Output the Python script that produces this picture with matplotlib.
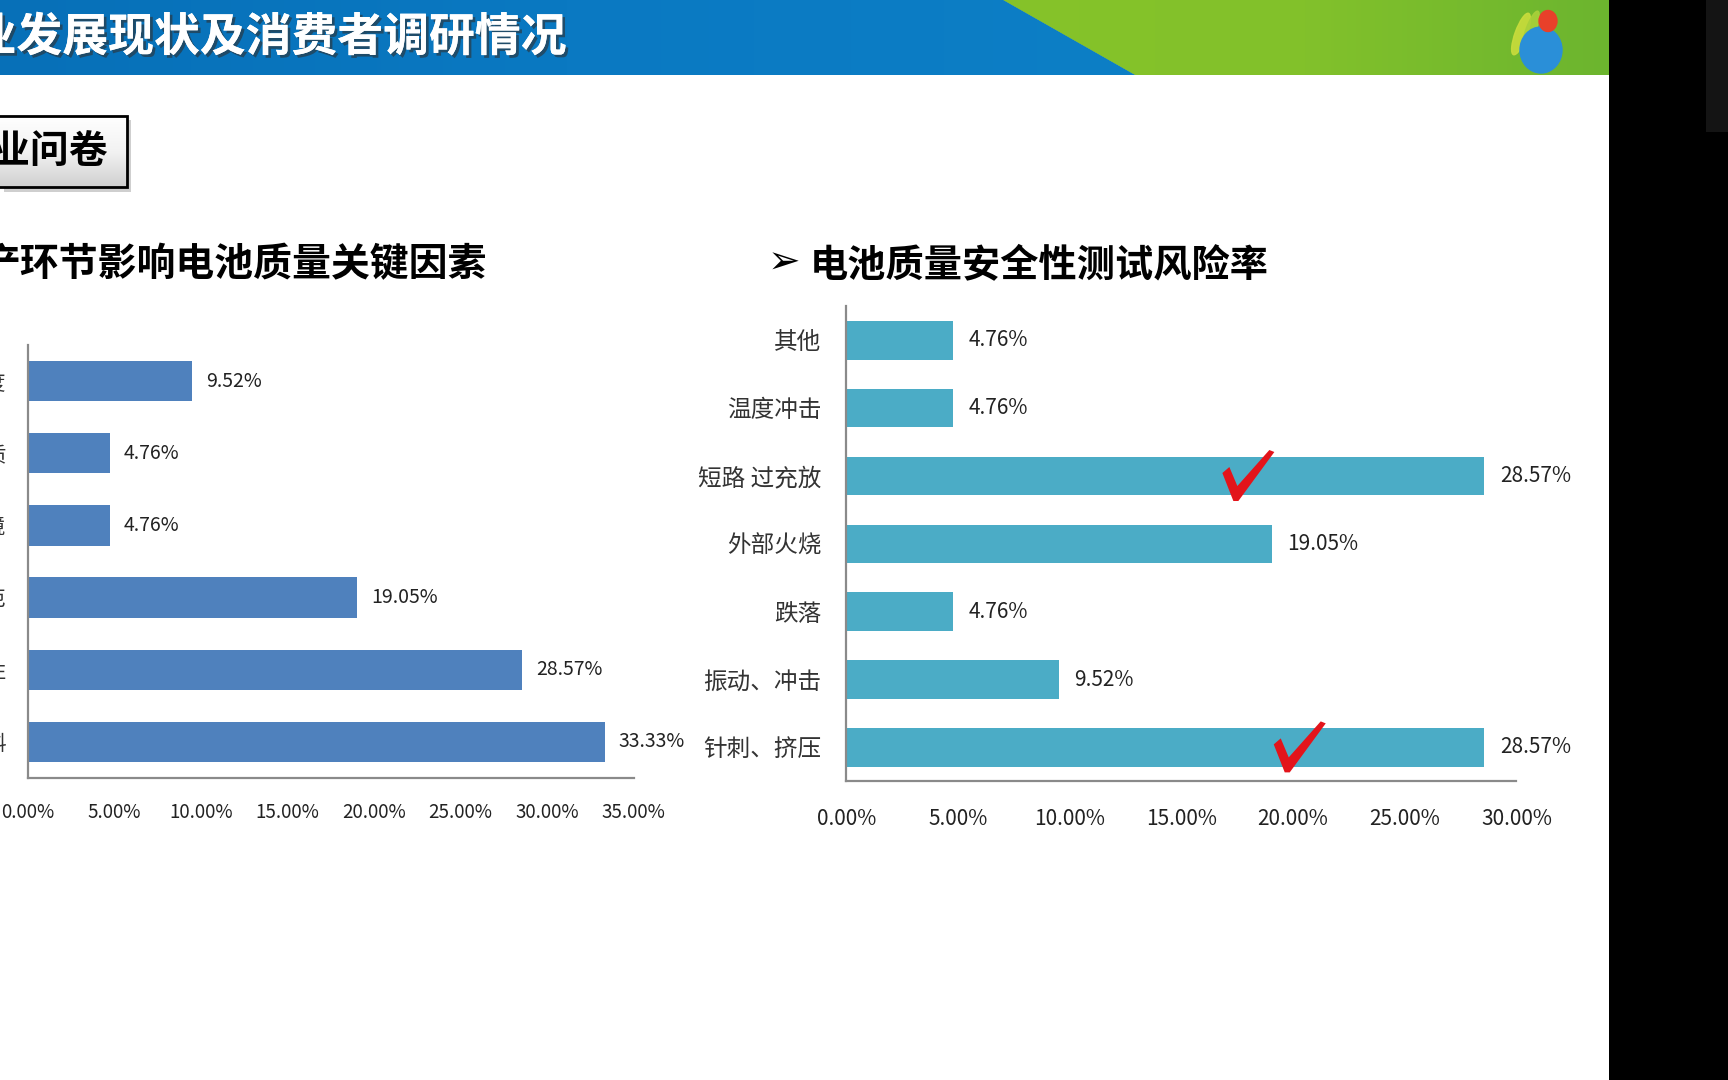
import numpy as np
import matplotlib
matplotlib.use('Agg')
import matplotlib.pyplot as plt
from matplotlib.patches import Polygon, Rectangle, Ellipse
from matplotlib.colors import LinearSegmentedColormap
import matplotlib.patheffects as pe

plt.rcParams['font.family'] = ['Noto Sans CJK SC', 'DejaVu Sans']

# left chart: key factors (labels are cut off by the slide edge)
left_cats = ['生产速度', '人员素质', '生产环境', '工艺规范', '设备稳定性', '原材料']
left_vals = [9.52, 4.76, 4.76, 19.05, 28.57, 33.33]
left_ticks = [0, 5, 10, 15, 20, 25, 30, 35]

# right chart: safety test risk rate
right_cats = ['其他', '温度冲击', '短路 过充放', '外部火烧', '跌落', '振动、冲击', '针刺、挤压']
right_vals = [4.76, 4.76, 28.57, 19.05, 4.76, 9.52, 28.57]
right_ticks = [0, 5, 10, 15, 20, 25, 30]
checked = ['短路 过充放', '针刺、挤压']
check_x = [18.0, 20.3]

W, H = 1728, 1080
fig = plt.figure(figsize=(W / 100, H / 100), dpi=100)
fig.patch.set_facecolor('white')

bg = fig.add_axes([0, 0, 1, 1])
bg.set_xlim(0, W)
bg.set_ylim(H, 0)
bg.axis('off')

# header band
grad = np.linspace(0, 1, 256).reshape(1, -1)
blue = Polygon([(0, 0), (1003, 0), (1135, 75), (0, 75)], closed=True, color='#0a77c0', lw=0)
green = Polygon([(1003, 0), (1609, 0), (1609, 75), (1135, 75)], closed=True, color='#84c22a', lw=0)
bg.add_patch(blue)
bg.add_patch(green)
gcm = LinearSegmentedColormap.from_list('g', ['#86c329', '#82c12b', '#6cb52f'])
im = bg.imshow(grad, cmap=gcm, extent=(1003, 1609, 75, 0), aspect='auto', zorder=1)
im.set_clip_path(green)
bcm = LinearSegmentedColormap.from_list('b', ['#0770b8', '#0a79c2', '#0d7fc6'])
im2 = bg.imshow(grad, cmap=bcm, extent=(0, 1135, 75, 0), aspect='auto', zorder=1)
im2.set_clip_path(blue)

# logo
bg.add_patch(Ellipse((1521, 34), 12, 44, angle=20, color='#c9dc3c', alpha=0.9, zorder=3))
bg.add_patch(Ellipse((1531, 30), 10, 40, angle=20, color='#a9d03a', alpha=0.9, zorder=3))
bg.add_patch(Ellipse((1541, 50), 42, 46, color='#2a8fd8', zorder=3))
bg.add_patch(Ellipse((1548, 21), 18, 21, color='#e8402a', zorder=4))

# right black area
bg.add_patch(Rectangle((1609, 0), W - 1609, H, color='black', lw=0, zorder=5))
bg.add_patch(Rectangle((1706, 0), W - 1706, 132, color='#141414', lw=0, zorder=6))

shadow = [pe.withSimplePatchShadow(offset=(2, -2), shadow_rgbFace='#303030', alpha=0.6), pe.Normal()]
bg.text(567, 38, '业发展现状及消费者调研情况', ha='right', va='center', color='white',
        fontsize=33, fontweight='bold', zorder=4, path_effects=shadow)

# section box
bg.add_patch(Rectangle((4, 120), 127, 72, color='#b0b0b0', alpha=0.6, lw=0, zorder=2))
box = Rectangle((-5, 116), 132, 71, facecolor='none', edgecolor='black', lw=2, zorder=4)
bg.add_patch(box)
bcg = LinearSegmentedColormap.from_list('bx', ['#ffffff', '#f2f2f2', '#cfcfcf'])
im3 = bg.imshow(np.linspace(0, 1, 256).reshape(-1, 1), cmap=bcg, extent=(-5, 127, 187, 116),
                aspect='auto', zorder=3)
im3.set_clip_path(Rectangle((-5, 116), 132, 71, transform=bg.transData))
bg.text(108, 152, '业问卷', ha='right', va='center', color='black', fontsize=28, fontweight='bold', zorder=5)

# subtitles
bg.text(486, 265, '产环节影响电池质量关键因素', ha='right', va='center', color='black',
        fontsize=28, fontweight='bold')
bg.text(768, 263, '➢', ha='left', va='center', color='black', fontsize=28, fontweight='bold',
        family='DejaVu Sans')
bg.text(810, 265, '电池质量安全性测试风险率', ha='left', va='center', color='black',
        fontsize=27.5, fontweight='bold')


def style(ax, ticks, lsize, pad):
    for s in ['top', 'right']:
        ax.spines[s].set_visible(False)
    for s in ['left', 'bottom']:
        ax.spines[s].set_color('#8a8a8a')
        ax.spines[s].set_linewidth(1.6)
    ax.set_xticks(ticks)
    ax.set_xticklabels([f'{t:.2f}%' for t in ticks], fontsize=lsize, color='#222222')
    ax.tick_params(length=0)
    ax.tick_params(axis='x', pad=pad)


# left chart
axl = fig.add_axes([27.5 / W, 1 - 778 / H, 606.2 / W, 433 / H])
yl = np.arange(len(left_vals))
axl.barh(yl, left_vals, height=0.56, color='#4f81bd')
axl.set_xlim(0, 35)
axl.set_ylim(len(left_vals) - 0.5, -0.5)
axl.set_yticks(yl)
axl.set_yticklabels(left_cats, fontsize=15, color='#333333')
axl.tick_params(axis='y', pad=15)
style(axl, left_ticks, 13.5, 17)
for y, v in zip(yl, left_vals):
    axl.text(v + 0.8, y, f'{v:.2f}%', va='center', ha='left', fontsize=14, color='#222222')

# right chart
axr = fig.add_axes([846.3 / W, 1 - 781.3 / H, 670.1 / W, 474.9 / H])
yr = np.arange(len(right_vals))
axr.barh(yr, right_vals, height=0.57, color='#4bacc6')
axr.set_xlim(0, 30)
axr.set_ylim(len(right_vals) - 0.5, -0.5)
axr.set_yticks(yr)
axr.set_yticklabels(right_cats, fontsize=17, color='#333333')
axr.tick_params(axis='y', pad=18)
style(axr, right_ticks, 15, 19)
for y, v in zip(yr, right_vals):
    axr.text(v + 0.7, y, f'{v:.2f}%', va='center', ha='left', fontsize=15, color='#222222')

# red check marks on the highlighted bars (shape in pixels around the anchor, y up)
check_shape = np.array([(-26, 3), (-19, 9), (-11, -10), (21, 26), (26, 24), (-10, -25), (-15, -25)])
to_data = axr.transData.inverted()
for cat, xv in zip(checked, check_x):
    anchor = axr.transData.transform((xv, right_cats.index(cat)))
    pts = to_data.transform(anchor + check_shape)
    axr.add_patch(Polygon(pts, closed=True, color='#e3141b', lw=0, zorder=5, clip_on=False))

fig.savefig('out.png', dpi=100)
